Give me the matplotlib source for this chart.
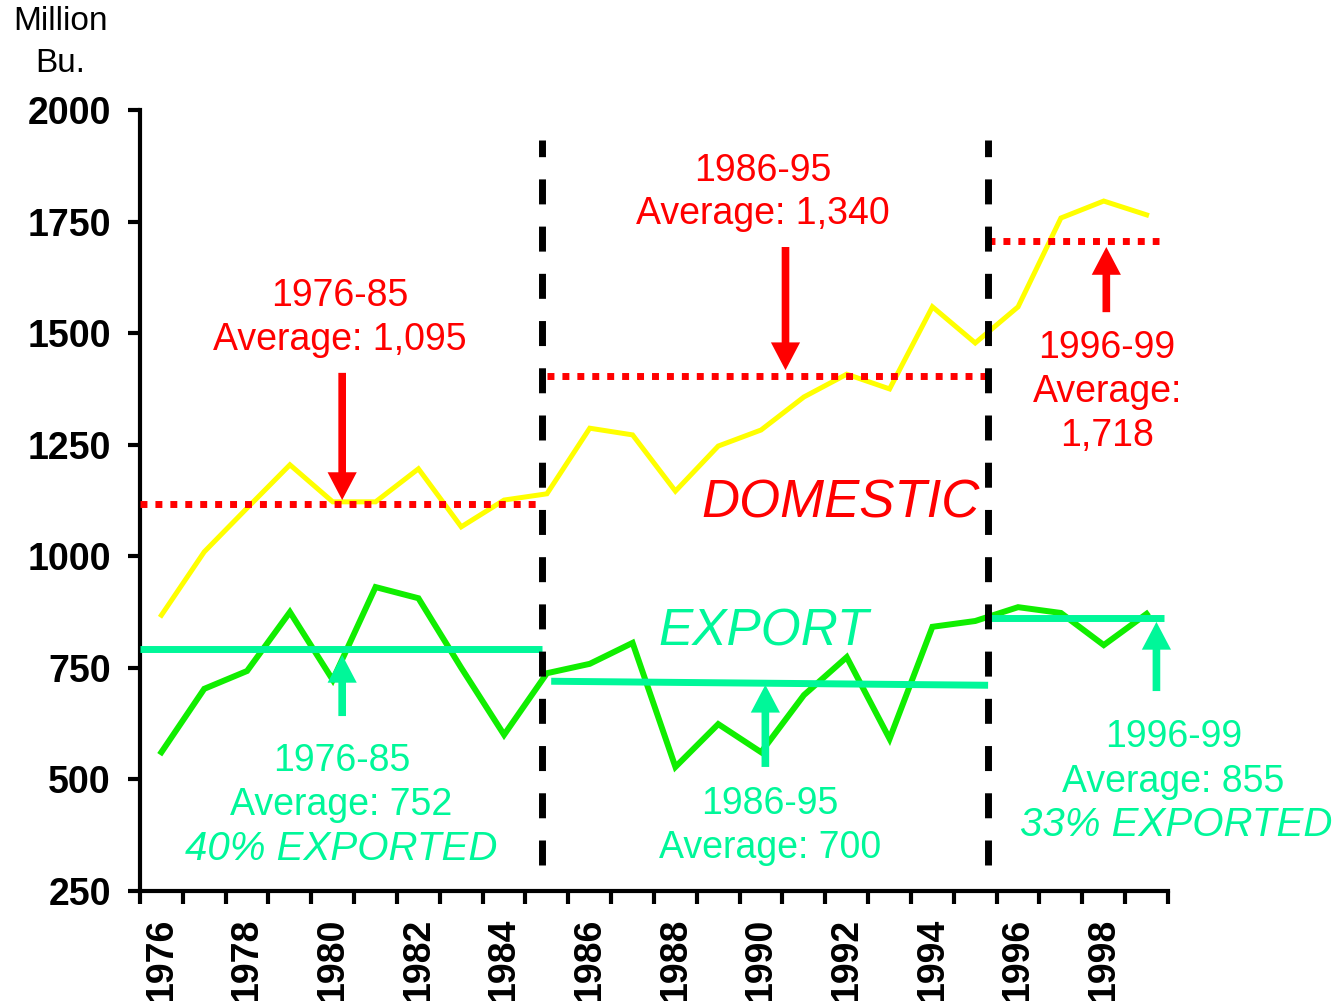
import matplotlib
matplotlib.use("Agg")
import matplotlib.pyplot as plt
from matplotlib.ticker import FixedLocator

plt.rcParams['font.family'] = ['Liberation Sans', 'DejaVu Sans']

years = list(range(1976, 2000))
domestic = [868, 1010, 1108, 1205, 1122, 1122, 1196, 1066, 1126, 1140,
            1287, 1272, 1146, 1247, 1283, 1357, 1408, 1375, 1559, 1478,
            1559, 1758, 1796, 1765]
export = [561, 703, 743, 875, 723, 931, 906, 750, 600, 738,
          759, 806, 528, 624, 561, 689, 774, 591, 842, 855,
          886, 873, 801, 871]

# period averages as drawn (start, end, level)
dom_avg = [(1975.5, 1984.88, 1117, 1117), (1985.0, 1995.3, 1404, 1404), (1995.3, 1999.28, 1706, 1706)]
exp_avg = [(1975.5, 1984.88, 792, 792), (1985.1, 1995.3, 720, 711), (1995.3, 1999.4, 862, 862)]
dividers = [1984.88, 1995.3]

YELLOW = '#FFFF00'
GREEN = '#10EE00'
SPRING = '#00F799'
RED = '#FF0000'

fig = plt.figure(figsize=(13.39, 10.01), dpi=100)
ax = fig.add_axes([140/1339, 1-891/1001, (1168-140)/1339, (891-110)/1001])

ax.plot(years, domestic, color=YELLOW, lw=3.6, solid_joinstyle='miter', zorder=3)
ax.plot(years, export, color=GREEN, lw=4.3, solid_joinstyle='miter', zorder=3)

for x0, x1, y0, y1 in dom_avg:
    ax.plot([x0, x1], [y0, y1], color=RED, lw=5, linestyle=(0, (1, 1.15)),
            dash_capstyle='butt', zorder=4)
for x0, x1, y0, y1 in exp_avg:
    ax.plot([x0, x1], [y0, y1], color=SPRING, lw=5, solid_capstyle='butt', zorder=4)

for xd in dividers:
    ax.plot([xd, xd], [308, 1933], color='black', lw=5, linestyle=(0, (3.6, 3.2)),
            dash_capstyle='butt', zorder=5)

def arrow(x, tail, tip, color):
    ax.annotate('', xy=(x, tip), xytext=(x, tail),
                arrowprops=dict(facecolor=color, edgecolor='none', width=5.5,
                                headwidth=21, headlength=20, shrink=0), zorder=6)

arrow(1980.22, 1411, 1126, RED)
arrow(1990.57, 1693, 1417, RED)
arrow(1998.06, 1547, 1693, RED)
arrow(1980.22, 642, 779, SPRING)
arrow(1990.10, 528, 712, SPRING)
arrow(1999.23, 698, 853, SPRING)

fs = 27
fsi = 29
def label(x, y, s, color, style='normal', size=fs):
    ax.text(x, y, s, color=color, fontsize=size, style=style, ha='center', va='center', zorder=7)

label(1980.17, 1583, '1976-85', RED)
label(1980.17, 1485, 'Average: 1,095', RED)
label(1990.05, 1863, '1986-95', RED)
label(1990.05, 1767, 'Average: 1,340', RED)
label(1998.08, 1467, '1996-99', RED)
label(1998.08, 1368, 'Average:', RED)
label(1998.08, 1270, '1,718', RED)
label(1991.85, 1118, 'DOMESTIC', RED, 'italic', 38)
label(1990.05, 830, 'EXPORT', SPRING, 'italic', 37)
label(1980.2, 541, '1976-85', SPRING)
label(1980.2, 443, 'Average: 752', SPRING)
label(1980.2, 344, '40% EXPORTED', SPRING, 'italic', fsi)
label(1990.2, 445, '1986-95', SPRING)
label(1990.2, 346, 'Average: 700', SPRING)
label(1999.63, 595, '1996-99', SPRING)
label(1999.63, 494, 'Average: 855', SPRING)
label(1999.7, 398, '33% EXPORTED', SPRING, 'italic', fsi)

ax.set_xlim(1975.5, 1999.5)
ax.set_ylim(250, 2000)
ax.set_yticks([250, 500, 750, 1000, 1250, 1500, 1750, 2000])
ax.set_yticklabels(['250', '500', '750', '1000', '1250', '1500', '1750', '2000'],
                   fontsize=27, fontweight='bold')
ax.xaxis.set_major_locator(FixedLocator([y + 0.5 for y in range(1975, 2000)]))
ax.xaxis.set_major_formatter(plt.NullFormatter())
even_years = [y for y in years if y % 2 == 0]
ax.set_xticks(even_years, minor=True)
ax.set_xticklabels([str(y) for y in even_years], minor=True, rotation=90,
                   fontsize=27, fontweight='bold', va='top')
ax.tick_params(axis='x', which='minor', length=0, pad=19)
ax.tick_params(axis='x', which='major', length=9, width=3, direction='out')
ax.tick_params(axis='y', length=9, width=3, direction='out', pad=12)
for s in ['top', 'right']:
    ax.spines[s].set_visible(False)
for s in ['left', 'bottom']:
    ax.spines[s].set_linewidth(3)

fig.text(60/1339, 1-22/1001, 'Million', fontsize=24, ha='center', va='center')
fig.text(60/1339, 1-64/1001, 'Bu.', fontsize=24, ha='center', va='center')

fig.savefig('out.png', dpi=100)
